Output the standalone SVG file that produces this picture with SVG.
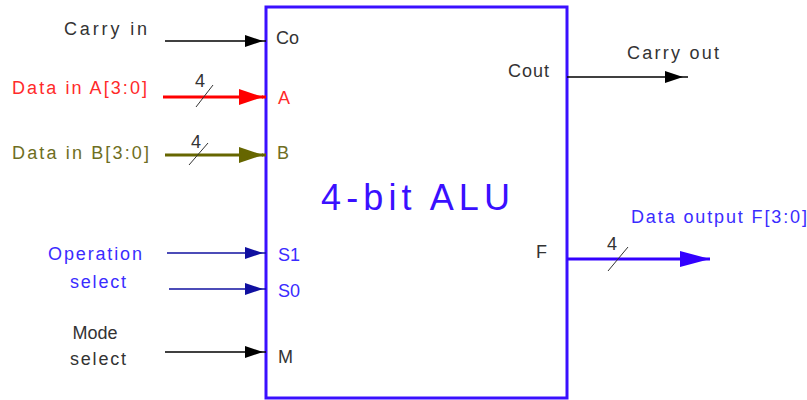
<svg xmlns="http://www.w3.org/2000/svg" width="807" height="400" viewBox="0 0 807 400">
<style>
text{font-family:"Liberation Sans",Arial,sans-serif;font-size:18px;}
.k{fill:#333}.r{fill:#ff2a2a}.o{fill:#6e6e22}.b{fill:#3a2cff}
.title{font-size:36px;fill:#3a10ff}
.w1{fill:none;stroke-width:1.5}
.w3{fill:none;stroke-width:3}
.tick{stroke:#333;stroke-width:1;fill:none}
</style>
<defs>
<marker id="ak" viewBox="0 0 18 14" refX="18" refY="7" markerWidth="18" markerHeight="14" markerUnits="userSpaceOnUse" orient="auto"><path d="M0,1 L18,7 L0,13 Z" fill="#000"/></marker>
<marker id="ar" viewBox="0 0 24 18" refX="24" refY="9" markerWidth="24" markerHeight="18" markerUnits="userSpaceOnUse" orient="auto"><path d="M0,1 L24,9 L0,17 Z" fill="#ff0000"/></marker>
<marker id="ao" viewBox="0 0 24 18" refX="24" refY="9" markerWidth="24" markerHeight="18" markerUnits="userSpaceOnUse" orient="auto"><path d="M0,1 L24,9 L0,17 Z" fill="#666600"/></marker>
<marker id="ab" viewBox="0 0 18 14" refX="18" refY="7" markerWidth="18" markerHeight="14" markerUnits="userSpaceOnUse" orient="auto"><path d="M0,1 L18,7 L0,13 Z" fill="#1010a0"/></marker>
<marker id="af" viewBox="0 0 30 16" refX="30" refY="8" markerWidth="30" markerHeight="16" markerUnits="userSpaceOnUse" orient="auto"><path d="M0,0 L30,8 L0,16 Z" fill="#3300ff"/></marker>
</defs>

<g id="alu">
<rect x="266" y="7" width="301" height="391" fill="none" stroke="#3a10ff" stroke-width="3"/>
<text class="title" x="321" y="210" textLength="189" lengthAdjust="spacing">4-bit ALU</text>
<text class="k" x="276" y="44">Co</text>
<text class="r" x="278" y="104">A</text>
<text class="o" x="277" y="159">B</text>
<text class="b" x="278" y="261">S1</text>
<text class="b" x="278" y="297">S0</text>
<text class="k" x="278" y="363">M</text>
<text class="k" x="508" y="77" textLength="41" lengthAdjust="spacing">Cout</text>
<text class="k" x="536" y="258">F</text>
</g>

<g id="carry-in">
<text class="k" x="64" y="35" textLength="83" lengthAdjust="spacing">Carry in</text>
</g>
<g id="data-a">
<text class="r" x="12" y="94" textLength="135" lengthAdjust="spacing">Data in A[3:0]</text>
<text class="k" x="195" y="87">4</text>
</g>
<g id="data-b">
<text class="o" x="12" y="159" textLength="137" lengthAdjust="spacing">Data in B[3:0]</text>
<text class="k" x="191" y="148">4</text>
</g>
<g id="op-select">
<text class="b" x="95" y="260" text-anchor="middle" textLength="94" lengthAdjust="spacing">Operation</text>
<text class="b" x="98" y="288" text-anchor="middle" textLength="56" lengthAdjust="spacing">select</text>
</g>
<g id="mode-select">
<text class="k" x="95" y="339" text-anchor="middle" textLength="45" lengthAdjust="spacing">Mode</text>
<text class="k" x="98" y="365" text-anchor="middle" textLength="56" lengthAdjust="spacing">select</text>
</g>
<g id="carry-out">
<text class="k" x="627" y="59" textLength="92" lengthAdjust="spacing">Carry out</text>
</g>
<g id="data-out">
<text class="b" x="631" y="223" textLength="176" lengthAdjust="spacing">Data output F[3:0]</text>
<text class="k" x="607" y="250">4</text>
</g>

<g id="connectors">
<path class="w1" stroke="#000" d="M165,41 H263" marker-end="url(#ak)"/>
<path class="w1" stroke="#000" d="M263,41 H266"/>
<path class="w3" stroke="#ff0000" d="M163,97 H263" marker-end="url(#ar)"/>
<path class="w3" stroke="#ff0000" d="M262,97 H266"/>
<path class="tick" d="M196,107 L213,85"/>
<path class="w3" stroke="#666600" d="M165,155 H263" marker-end="url(#ao)"/>
<path class="w3" stroke="#666600" d="M262,155 H266"/>
<path class="tick" d="M189,165 L208,143"/>
<path class="w1" stroke="#1010a0" d="M167,253 H263" marker-end="url(#ab)"/>
<path class="w1" stroke="#1010a0" d="M263,253 H266"/>
<path class="w1" stroke="#1010a0" d="M169,289 H263" marker-end="url(#ab)"/>
<path class="w1" stroke="#1010a0" d="M263,289 H266"/>
<path class="w1" stroke="#000" d="M165,352 H263" marker-end="url(#ak)"/>
<path class="w1" stroke="#000" d="M263,352 H266"/>
<path class="w1" stroke="#000" d="M567,77 H683" marker-end="url(#ak)"/>
<path class="w1" stroke="#000" d="M683,77 H688"/>
<path class="w3" stroke="#3300ff" d="M567,259 H710" marker-end="url(#af)"/>
<path class="tick" d="M608,271 L628,247"/>
</g>
</svg>
